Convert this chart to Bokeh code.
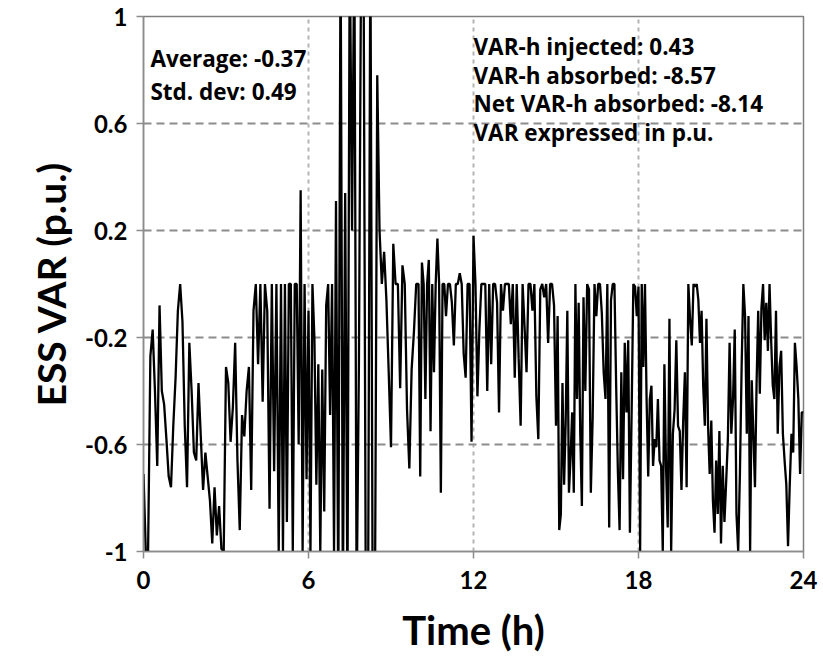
import numpy as np
from bokeh.plotting import figure
from bokeh.models import FixedTicker, Label, ColumnDataSource
from bokeh.embed import file_html
from bokeh.resources import INLINE

# ESS reactive power (p.u.), read hour by hour from the chart (samples spread evenly in each hour)
hour_values = [
    [-0.71, -1.0, -1.0, -0.27, -0.17, -0.4, -0.68, -0.08, -0.4, -0.45, -0.58, -0.72],
    [-0.76, -0.53, -0.35, -0.1, 0.0, -0.14, -0.53, -0.76, -0.22, -0.4, -0.63, -0.66],
    [-0.37, -0.57, -0.77, -0.63, -0.72, -0.81, -0.97, -0.76, -0.94, -0.83, -0.99, -1.0],
    [-0.31, -0.37, -0.59, -0.46, -0.22, -0.66, -0.92, -0.49, -0.57, -0.4, -0.31, -0.77],
    [-0.1, 0.0, -0.3, 0.0, -0.44, 0.0, -0.1, -0.84, 0.0, -0.7, 0.0, -1.0],
    [0.0, -1.0, 0.0, -0.89, 0.0, 0.0, -1.0, 0.0, 0.0, -0.6, 0.35, -1.0, 0.0, -0.73],
    [-0.1, -1.0, 0.0, -0.2, -0.75, -0.3, -1.0, -0.32, -0.85, -0.08, 0.0, -0.49, 0.0, -1.0],
    [0.31, -1.2, 1.3, -1.2, 0.34, -1.2, 1.3, 0.2, 1.3, -1.2, -0.3, 1.3],
    [1.3, -1.2, -1.2, 1.3, -1.2, -1.2, 0.78, 0.2, 0.0, 0.12, -0.06, -0.33],
    [-0.61, 0.15, 0.0, 0.0, -0.39, 0.07, 0.0, -0.47, -0.69, -0.32, -0.18, 0.0],
    [0.0, -0.72, 0.08, 0.0, -0.43, 0.0, 0.09, -0.55, 0.0, -0.33, 0.0, 0.17, 0.0, -0.78, 0.0, 0.0],
    [-0.12, 0.0, 0.0, -0.07, -0.23, 0.0, 0.0, 0.04, 0.0, -0.26, -0.35, 0.0, 0.0, -0.59],
    [0.18, 0.0, -0.42, -0.17, 0.0, 0.0, 0.0, -0.4, 0.0, -0.3, 0.0, 0.0, -0.07, -0.48],
    [0.0, -0.1, 0.0, 0.0, 0.0, -0.15, 0.0, -0.35, 0.0, -0.28, -0.53, 0.0, -0.16, -0.33],
    [0.0, 0.0, -0.1, 0.0, -0.42, -0.58, -0.02, 0.0, -0.05, 0.0, -0.22, 0.0, 0.0, -0.08],
    [-0.53, -0.12, -0.92, -0.86, -0.37, -0.75, -0.51, -0.1, -0.78, -0.65, -0.48, -0.78, 0.0, -0.43, -0.07, -0.56, -0.83],
    [-0.05, -0.4, 0.0, -0.02, -0.78, -0.5, 0.0, -0.12, 0.0, 0.0, -0.11, -0.33, -0.43, 0.0, -0.91],
    [-0.06, 0.0, 0.0, -0.38, -0.7, -0.92, -0.33, -0.73, -0.22, -0.48, -0.21, -0.93, -0.48, 0.0, -0.01, -0.12],
    [-0.01, -1.0, 0.0, -0.31, 0.0, -0.43, -0.72, -0.43, -0.38, -0.68, -0.58, -0.61, -0.43, -0.66, -0.68, -1.0, -0.3],
    [-0.68, -0.91, -0.13, -1.0, -0.56, -0.47, -0.21, -0.53, -0.55, -0.77, -0.51, -0.33, -0.76, 0.0, -0.13, -0.23],
    [0.0, -0.01, 0.0, -0.06, -0.22, -0.1, -0.38, -0.53, -0.13, -0.53, -0.71, -0.51, -0.81, -0.93, -0.66, -0.86, -0.55],
    [-0.97, -0.68, -0.89, -0.74, -0.58, -0.22, -0.56, -0.43, -0.17, -0.86, -1.0, -0.71, -0.31, 0.0, -0.12, -0.56],
    [-0.12, -1.0, -0.36, -0.56, -0.76, -0.37, -0.1, -0.41, -0.09, 0.0, -0.21, -0.07, -0.25, 0.0, -0.21, -0.38, -0.43],
    [-0.1, -0.56, -0.31, -0.25, -0.56, -0.66, -0.75, -0.98, -0.75, -0.56, -0.63, -0.22, -0.31, -0.43, -0.71, -0.48],
]
end_value = -0.48

x_ticks = [0, 6, 12, 18, 24]
y_ticks = [-1, -0.6, -0.2, 0.2, 0.6, 1]
y_tick_labels = ["-1", "-0.6", "-0.2", "0.2", "0.6", "1"]

left_notes = ["Average: -0.37", "Std. dev: 0.49"]
right_notes = ["VAR-h injected: 0.43", "VAR-h absorbed: -8.57",
               "Net VAR-h absorbed: -8.14", "VAR expressed in p.u."]

t, v = [], []
for h, vals in enumerate(hour_values):
    n = len(vals)
    for i, val in enumerate(vals):
        t.append(h + i / n)
        v.append(val)
t.append(24)
v.append(end_value)
src = ColumnDataSource(dict(t=t, v=v))

FONT = "Lato"
NOTE_FONT = "Open Sans"

p = figure(width=823, height=665, x_range=(0, 24), y_range=(-1, 1),
           output_backend="svg", toolbar_location=None,
           min_border_left=143, min_border_right=20, min_border_top=16, min_border_bottom=114)
p.background_fill_color = "white"
p.border_fill_color = "white"
p.outline_line_color = "#7f7f7f"
p.outline_line_width = 1.5

p.line("t", "v", source=src, line_color="black", line_width=2.3)

# grids
p.xgrid.ticker = FixedTicker(ticks=[6, 12, 18])
p.xgrid.grid_line_color = "#b4b4b4"
p.xgrid.grid_line_dash = "4 4"
p.xgrid.grid_line_width = 2
p.ygrid.ticker = FixedTicker(ticks=[-0.6, -0.2, 0.2, 0.6])
p.ygrid.grid_line_color = "#8c8c8c"
p.ygrid.grid_line_dash = "8 5"
p.ygrid.grid_line_width = 2

# axes
for ax in (p.xaxis[0], p.yaxis[0]):
    ax.axis_line_color = "#8c8c8c"
    ax.axis_line_width = 1.5
    ax.major_tick_line_color = "#8c8c8c"
    ax.major_tick_line_width = 1.5
    ax.major_tick_in = 0
    ax.major_tick_out = 7
    ax.minor_tick_line_color = None
    ax.major_label_text_font = FONT
    ax.major_label_text_font_style = "bold"
    ax.major_label_text_font_size = "24px"
    ax.major_label_text_color = "black"
    ax.axis_label_text_font = FONT
    ax.axis_label_text_font_style = "bold"
    ax.axis_label_text_color = "black"

p.xaxis.ticker = FixedTicker(ticks=x_ticks)
p.yaxis.ticker = FixedTicker(ticks=y_ticks)
p.yaxis.major_label_overrides = {k: s for k, s in zip(y_ticks, y_tick_labels)}
p.xaxis.major_label_standoff = 12
p.yaxis.major_label_standoff = 9
p.xaxis.axis_label = "Time (h)"
p.xaxis.axis_label_text_font_size = "40px"
p.xaxis.axis_label_standoff = 14
p.yaxis.axis_label = "ESS VAR (p.u.)"
p.yaxis.axis_label_text_font_size = "39px"
p.yaxis.axis_label_standoff = 8

for i, s in enumerate(left_notes):
    p.add_layout(Label(x=0.25, y=0.843 - i * 0.123, text=s, text_font=NOTE_FONT,
                       text_font_style="bold", text_font_size="22.5px",
                       text_baseline="middle", text_color="black"))
for i, s in enumerate(right_notes):
    p.add_layout(Label(x=12.0, y=0.888 - i * 0.107, text=s, text_font=NOTE_FONT,
                       text_font_style="bold", text_font_size="22.5px",
                       text_baseline="middle", text_color="black"))

open("out.html", "w").write(file_html(p, INLINE))
